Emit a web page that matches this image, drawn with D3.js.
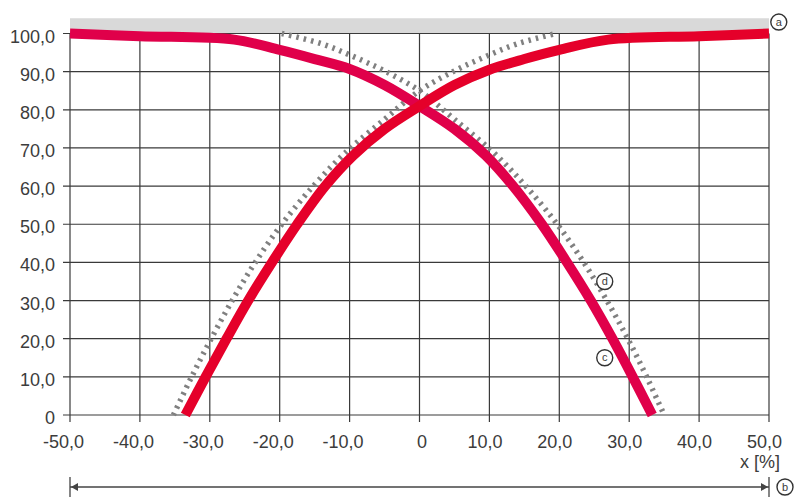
<!DOCTYPE html>
<html>
<head>
<meta charset="utf-8">
<script src="https://cdn.jsdelivr.net/npm/d3@7"></script>
<style>
  body { margin: 0; background: #fff; }
  text { font-family: "Liberation Sans", Arial, sans-serif; fill: #3c3c3c; }
</style>
</head>
<body>
<script>
// tick values and labels
var xTicks = [-50, -40, -30, -20, -10, 0, 10, 20, 30, 40, 50];
var xTickLabels = ["-50,0", "-40,0", "-30,0", "-20,0", "-10,0", "0", "10,0", "20,0", "30,0", "40,0", "50,0"];
var yTicks = [0, 10, 20, 30, 40, 50, 60, 70, 80, 90, 100];
var yTickLabels = ["0", "10,0", "20,0", "30,0", "40,0", "50,0", "60,0", "70,0", "80,0", "90,0", "100,0"];
var xTitle = "x [%]";
var bandTop = 104;

// red curves
var redRising = [[-33.5, 0], [-30.6, 10], [-27.6, 20], [-24.5, 30], [-21.1, 40], [-17.5, 50], [-13.5, 60],
  [-9.5, 68], [-5, 75], [0, 81], [5, 86.5], [10, 90.5], [15, 93.3], [20, 95.7], [27, 98.4], [40, 99.3], [50, 100]];
var redFalling = [[-50, 100], [-40, 99.3], [-26.5, 98.4], [-20, 95.7], [-15, 93.3], [-10, 90.7], [-5, 86.5],
  [0, 81], [5, 75], [9.5, 68], [13.4, 60], [17.5, 50], [21.1, 40], [24.5, 30], [27.6, 20], [30.5, 10], [33.3, 0]];

// grey dotted curves
var greyRising = [[-35.2, 0], [-32.6, 10], [-29.8, 20], [-26.8, 30], [-23.5, 40], [-19.7, 50], [-15.2, 60],
  [-10.7, 68.6], [-5, 77.5], [0, 85], [5, 90.2], [9.5, 94], [14, 97.3], [19.5, 100]];
var greyFalling = [[-19.7, 100], [-14, 97.3], [-9.5, 94], [-5, 90.2], [0, 85], [5, 77.5], [10.7, 68.6],
  [15.2, 60], [19.7, 50], [23.5, 40], [26.8, 30], [29.8, 20], [32.5, 10], [35, 0]];

// marker letters: [x, y, letter] in data units
var markers = [[51.4, 103, "a"], [26.5, 15, "c"], [26.5, 35, "d"]];

var W = 794, H = 497;
var x = d3.scaleLinear().domain([-50, 50]).range([70, 769]);
var y = d3.scaleLinear().domain([0, 100]).range([415, 33.5]);

var svg = d3.select("body").append("svg").attr("width", W).attr("height", H);

// grey band above 100
svg.append("rect")
  .attr("x", x(-50)).attr("width", x(50) - x(-50))
  .attr("y", y(bandTop)).attr("height", y(100) - y(bandTop))
  .attr("fill", "#d9d9d9");

// grid
var grid = svg.append("g").attr("stroke", "#3a3a3a").attr("stroke-width", 1.2);
grid.selectAll(".vg").data(xTicks).enter().append("line")
  .attr("x1", function(d) { return x(d); }).attr("x2", function(d) { return x(d); })
  .attr("y1", y(100)).attr("y2", y(0) + 7);
grid.selectAll(".hg").data(yTicks).enter().append("line")
  .attr("y1", function(d) { return y(d); }).attr("y2", function(d) { return y(d); })
  .attr("x1", x(-50) - 7).attr("x2", x(50));

// axes (labels only)
var xAxis = svg.append("g").attr("transform", "translate(0," + y(0) + ")")
  .call(d3.axisBottom(x).tickValues(xTicks).tickSize(0)
    .tickFormat(function(d, i) { return xTickLabels[i]; }));
xAxis.select(".domain").remove();
xAxis.selectAll("text")
  .attr("y", 33).attr("dy", null)
  .attr("dx", function(d) { return d === 0 ? 2 : (d < 0 ? -7 : -5); })
  .style("font-size", "18px").attr("fill", "#3c3c3c");

var yAxis = svg.append("g").attr("transform", "translate(" + x(-50) + ",0)")
  .call(d3.axisLeft(y).tickValues(yTicks).tickSize(0)
    .tickFormat(function(d, i) { return yTickLabels[i]; }));
yAxis.select(".domain").remove();
yAxis.selectAll("text")
  .attr("x", -15).attr("dy", "8.5")
  .style("font-size", "18px").attr("fill", "#3c3c3c");

svg.append("text").attr("x", 780).attr("y", 468).attr("text-anchor", "end")
  .style("font-size", "18px").text(xTitle);

// curves
var line = d3.line()
  .x(function(d) { return x(d[0]); })
  .y(function(d) { return y(d[1]); })
  .curve(d3.curveCatmullRom.alpha(0.5));

[greyRising, greyFalling].forEach(function(s) {
  svg.append("path").attr("d", line(s))
    .attr("fill", "none").attr("stroke", "#808080").attr("stroke-width", 5.5)
    .attr("stroke-dasharray", "2.5,5");
});
svg.append("path").attr("d", line(redFalling))
  .attr("fill", "none").attr("stroke", "#e0004a").attr("stroke-width", 10)
  .attr("stroke-linejoin", "round");
svg.append("path").attr("d", line(redRising))
  .attr("fill", "none").attr("stroke", "#e5002a").attr("stroke-width", 10)
  .attr("stroke-linejoin", "round");

// dimension arrow at the bottom
var ay = 487;
var arrow = svg.append("g").attr("stroke", "#444").attr("fill", "#444");
arrow.append("line").attr("x1", x(-50)).attr("x2", x(50)).attr("y1", ay).attr("y2", ay).attr("stroke-width", 1.5);
arrow.append("line").attr("x1", x(-50)).attr("x2", x(-50)).attr("y1", ay - 10).attr("y2", ay + 10).attr("stroke-width", 1.3);
arrow.append("line").attr("x1", x(50)).attr("x2", x(50)).attr("y1", ay - 10).attr("y2", ay + 10).attr("stroke-width", 1.3);
arrow.append("path").attr("stroke", "none")
  .attr("d", "M" + (x(-50) + 1) + "," + ay + "l7,-4l0,8z");
arrow.append("path").attr("stroke", "none")
  .attr("d", "M" + (x(50) - 1) + "," + ay + "l-7,-4l0,8z");

// circled letters
function circled(cx, cy, t) {
  var g = svg.append("g").attr("transform", "translate(" + cx + "," + cy + ")");
  g.append("circle").attr("r", 8).attr("fill", "#fff").attr("stroke", "#333").attr("stroke-width", 1.4);
  g.append("text").attr("text-anchor", "middle").attr("dy", "3.5")
    .style("font-size", "11px").text(t);
}
markers.forEach(function(m) { circled(x(m[0]), y(m[1]), m[2]); });
circled(x(50) + 16, ay, "b");
</script>
</body>
</html>
